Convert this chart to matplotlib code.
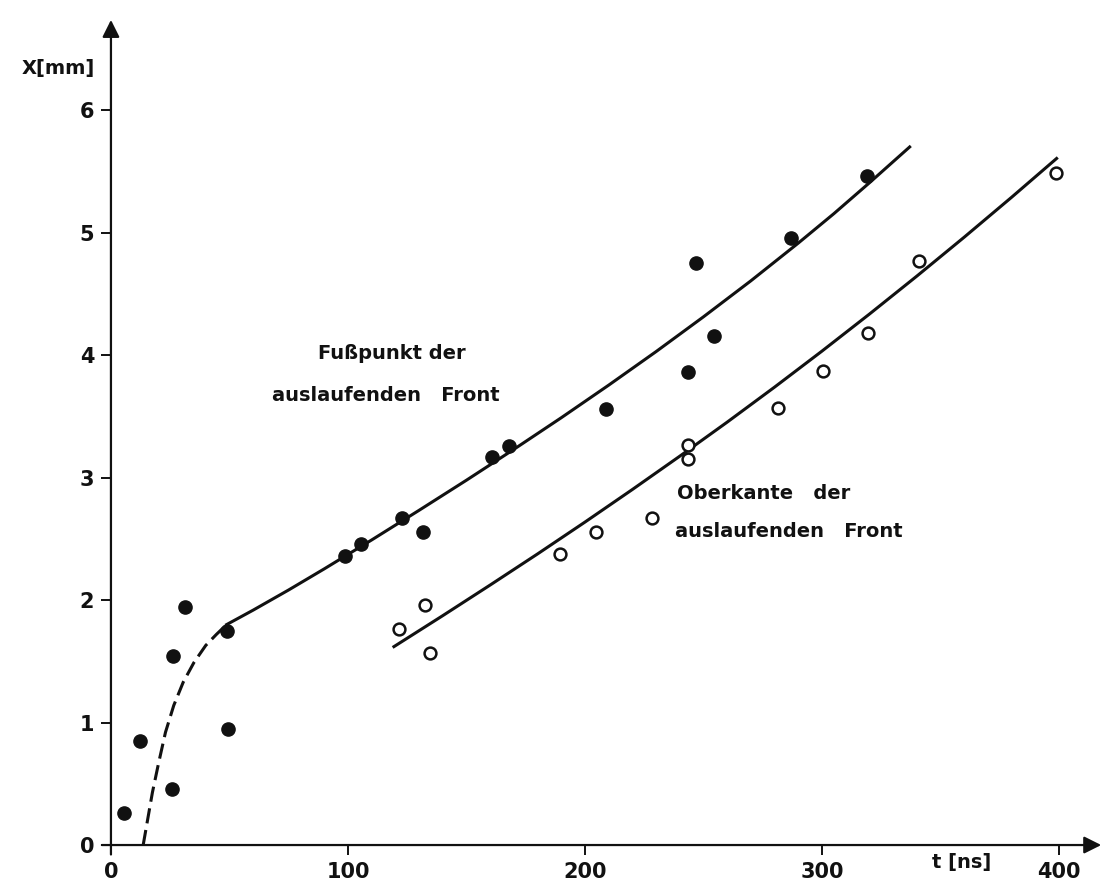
import matplotlib
matplotlib.use("Agg")
import matplotlib.pyplot as plt

# Fußpunkt der auslaufenden Front (gefüllte Punkte)
t_fuss = [5.5, 12.2, 25.8, 26.3, 31.2, 49.0, 49.4, 98.7, 105.5, 122.8, 131.6,
          160.8, 167.9, 209.0, 243.5, 246.8, 254.4, 287.0, 319.0]
x_fuss = [0.26, 0.85, 0.46, 1.54, 1.94, 1.75, 0.95, 2.36, 2.46, 2.67, 2.56,
          3.17, 3.26, 3.56, 3.86, 4.75, 4.16, 4.96, 5.46]

# Oberkante der auslaufenden Front (offene Punkte)
t_ober = [121.5, 132.5, 134.6, 189.5, 204.6, 228.4, 243.5, 243.5, 281.4,
          300.6, 319.4, 341.0, 398.7]
x_ober = [1.76, 1.96, 1.57, 2.38, 2.56, 2.67, 3.15, 3.27, 3.57,
          3.87, 4.18, 4.77, 5.49]

# Ausgleichskurven (Stützstellen)
t_fit_dash = [13.6, 15.5, 17.5, 20.0, 23.0, 26.5, 30.5, 35.0, 40.0, 44.5, 48.8]
x_fit_dash = [0.0, 0.21, 0.43, 0.66, 0.92, 1.14, 1.33, 1.49, 1.63, 1.72, 1.80]
t_fit_fuss = [48.8, 60, 75, 90, 110, 130, 150, 170, 190, 210, 230, 250,
              270, 290, 305, 320, 337]
x_fit_fuss = [1.80, 1.918, 2.083, 2.255, 2.491, 2.733, 2.979, 3.231, 3.489,
              3.755, 4.029, 4.313, 4.607, 4.915, 5.155, 5.407, 5.700]
t_fit_ober = [119.4, 140, 160, 180, 200, 220, 240, 260, 280, 300, 320, 340,
              360, 380, 399]
x_fit_ober = [1.62, 1.873, 2.123, 2.377, 2.637, 2.903, 3.175, 3.453, 3.739,
              4.033, 4.335, 4.645, 4.963, 5.289, 5.606]

xticks = [0, 100, 200, 300, 400]
yticks = [0, 1, 2, 3, 4, 5, 6]

ink = "#111111"
plt.rcParams["font.family"] = ["DejaVu Sans"]

fig = plt.figure(figsize=(11.04, 8.83), dpi=100)
ax = fig.add_axes([0.1005, 0.043, 0.8995, 0.957])
ax.set_xlim(0, 419)
ax.set_ylim(0, 6.9)
for s in ax.spines.values():
    s.set_visible(False)

# Achsen mit Pfeilspitzen
ax.annotate("", xy=(0, 6.76), xytext=(0, -0.1),
            arrowprops=dict(arrowstyle="-|>", lw=1.6, color=ink, mutation_scale=26),
            annotation_clip=False)
ax.annotate("", xy=(419, 0), xytext=(-5, 0),
            arrowprops=dict(arrowstyle="-|>", lw=1.6, color=ink, mutation_scale=26),
            annotation_clip=False)

ax.set_xticks(xticks)
ax.set_yticks(yticks)
ax.tick_params(direction="out", length=7, width=1.4, color=ink,
               labelsize=15, pad=5, labelcolor=ink)
for lab in ax.get_xticklabels() + ax.get_yticklabels():
    lab.set_fontweight("bold")

# Kurven
ax.plot(t_fit_dash, x_fit_dash, color=ink, lw=2.2, ls=(0, (5, 2.2)),
        solid_capstyle="butt")
ax.plot(t_fit_fuss, x_fit_fuss, color=ink, lw=2.2)
ax.plot(t_fit_ober, x_fit_ober, color=ink, lw=2.2)

# Messpunkte
ax.plot(t_fuss, x_fuss, "o", ms=9.5, color=ink, mec=ink, clip_on=False)
ax.plot(t_ober, x_ober, "o", ms=8.5, mfc="white", mec=ink, mew=1.8,
        clip_on=False, zorder=4)

# Beschriftungen
tk = dict(fontsize=14, fontweight="bold", color=ink, va="center", ha="left")
ax.text(87.3, 4.01, "Fußpunkt der", **tk)
ax.text(67.9, 3.67, "auslaufenden   Front", **tk)
ax.text(238.8, 2.87, "Oberkante   der", **tk)
ax.text(238.0, 2.56, "auslaufenden   Front", **tk)

ax.text(359, -0.145, "t [ns]", fontsize=14, fontweight="bold", color=ink,
        ha="center", va="center", clip_on=False)
ax.text(-22.4, 6.34, "X[mm]", fontsize=14, fontweight="bold", color=ink,
        ha="center", va="center", clip_on=False)

fig.savefig("out.png", dpi=100, facecolor="white")
